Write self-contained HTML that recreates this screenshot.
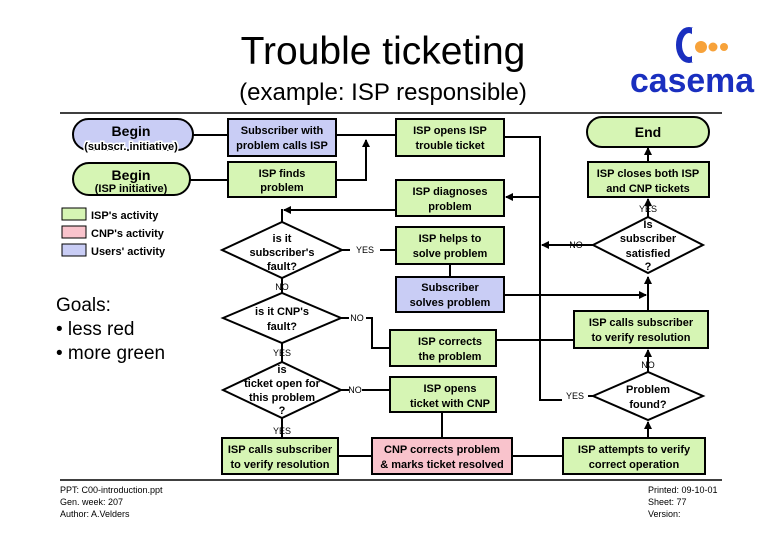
<!DOCTYPE html>
<html><head><meta charset="utf-8"><style>
html,body{margin:0;padding:0;background:#fff;}
svg{display:block;font-family:"Liberation Sans",Arial,sans-serif;}
.b{stroke:#000;stroke-width:2;}
.g{fill:#d6f5b4;}.u{fill:#c9cdf5;}.p{fill:#f9c3cc;}
.t{font-size:11px;font-weight:bold;text-anchor:middle;}
.l{stroke:#000;stroke-width:2;fill:none;}
.s{font-size:9px;text-anchor:middle;}
</style></head><body>
<svg width="780" height="540" viewBox="0 0 780 540" xmlns="http://www.w3.org/2000/svg">
<defs><marker id="a" markerWidth="8" markerHeight="8" refX="7" refY="4" orient="auto" markerUnits="userSpaceOnUse"><path d="M0,0 L8,4 L0,8 z" fill="#000"/></marker></defs>
<text x="383" y="64" font-size="39" text-anchor="middle">Trouble ticketing</text>
<text x="383" y="100" font-size="24" text-anchor="middle">(example: ISP responsible)</text>
<!-- logo -->
<g>
<ellipse cx="689" cy="45" rx="10" ry="15" fill="none" stroke="#1a2fbf" stroke-width="6"/>
<rect x="692" y="28" width="14" height="34" fill="#fff"/>
<circle cx="701" cy="47" r="6" fill="#f7a23a"/><circle cx="713" cy="47" r="4.5" fill="#f7a23a"/><circle cx="724" cy="47" r="4" fill="#f7a23a"/>
<text x="692" y="92" font-size="34" font-weight="bold" fill="#1a2fbf" text-anchor="middle" textLength="124" lengthAdjust="spacingAndGlyphs">casema</text>
</g>
<line x1="60" y1="113" x2="722" y2="113" stroke="#000" stroke-width="1.5"/>
<line x1="60" y1="480" x2="722" y2="480" stroke="#000" stroke-width="1.5"/>

<!-- connectors -->
<path class="l" d="M193,135 H228 M336,135 H396"/>
<path class="l" d="M190,180 H228 M336,180 H366 V140" marker-end="url(#a)"/>
<path class="l" d="M504,137 H540 V400 H562"/>
<path class="l" d="M540,197 H506" marker-end="url(#a)"/>
<path class="l" d="M396,210 H284" marker-end="url(#a)"/>
<path class="l" d="M282,209 V222"/>
<path class="l" d="M593,245 H542" marker-end="url(#a)"/>
<path class="l" d="M342,250 H350 M380,250 H396"/>
<path class="l" d="M450,264 V277"/>
<path class="l" d="M504,295 H646" marker-end="url(#a)"/>
<path class="l" d="M648,311 V277" marker-end="url(#a)"/>
<path class="l" d="M648,218 V199" marker-end="url(#a)"/>
<path class="l" d="M648,162 V148" marker-end="url(#a)"/>
<path class="l" d="M282,278 V293"/>
<path class="l" d="M341,318 H349 M366,318 H372 V348 H390"/>
<path class="l" d="M496,340 H574"/>
<path class="l" d="M282,343 V362"/>
<path class="l" d="M341,390 H349 M362,390 H390"/>
<path class="l" d="M442,412 V438"/>
<path class="l" d="M282,418 V438"/>
<path class="l" d="M338,456 H372 M512,456 H563"/>
<path class="l" d="M648,438 V422" marker-end="url(#a)"/>
<path class="l" d="M648,372 V350" marker-end="url(#a)"/>
<path class="l" d="M593,396 H588"/>

<!-- pills -->
<rect x="73" y="119" width="120" height="31" rx="15.5" class="b u"/>
<text x="131" y="136" font-size="14" font-weight="bold" text-anchor="middle">Begin</text>
<text x="131" y="150" class="t" fill="#000" style="paint-order:stroke" stroke="#fff" stroke-width="3">(subscr. initiative)</text>
<rect x="73" y="163" width="117" height="32" rx="16" class="b g"/>
<text x="131" y="180" font-size="14" font-weight="bold" text-anchor="middle">Begin</text>
<text x="131" y="192" class="t">(ISP initiative)</text>
<rect x="587" y="117" width="122" height="30" rx="15" class="b g"/>
<text x="648" y="137" font-size="14" font-weight="bold" text-anchor="middle">End</text>

<!-- boxes -->
<rect x="228" y="119" width="108" height="37" class="b u"/><text class="t" x="282" y="134">Subscriber with</text><text class="t" x="282" y="149">problem calls ISP</text>
<rect x="228" y="162" width="108" height="35" class="b g"/><text class="t" x="282" y="177">ISP finds</text><text class="t" x="282" y="191">problem</text>
<rect x="396" y="119" width="108" height="37" class="b g"/><text class="t" x="450" y="134">ISP opens ISP</text><text class="t" x="450" y="149">trouble ticket</text>
<rect x="396" y="180" width="108" height="36" class="b g"/><text class="t" x="450" y="195">ISP diagnoses</text><text class="t" x="450" y="210">problem</text>
<rect x="396" y="227" width="108" height="37" class="b g"/><text class="t" x="450" y="242">ISP helps to</text><text class="t" x="450" y="257">solve problem</text>
<rect x="396" y="277" width="108" height="35" class="b u"/><text class="t" x="450" y="291">Subscriber</text><text class="t" x="450" y="306">solves problem</text>
<rect x="390" y="330" width="106" height="36" class="b g"/><text class="t" x="450" y="345">ISP corrects</text><text class="t" x="450" y="360">the problem</text>
<rect x="390" y="377" width="106" height="35" class="b g"/><text class="t" x="450" y="392">ISP opens</text><text class="t" x="450" y="407">ticket with CNP</text>
<rect x="372" y="438" width="140" height="36" class="b p"/><text class="t" x="442" y="453">CNP corrects problem</text><text class="t" x="442" y="468">&amp; marks ticket resolved</text>
<rect x="222" y="438" width="116" height="36" class="b g"/><text class="t" x="280" y="453">ISP calls subscriber</text><text class="t" x="280" y="468">to verify  resolution</text>
<rect x="563" y="438" width="142" height="36" class="b g"/><text class="t" x="634" y="453">ISP attempts to  verify</text><text class="t" x="634" y="468">correct  operation</text>
<rect x="574" y="311" width="134" height="37" class="b g"/><text class="t" x="641" y="326">ISP calls subscriber</text><text class="t" x="641" y="341">to verify resolution</text>
<rect x="588" y="162" width="121" height="35" class="b g"/><text class="t" x="648" y="177">ISP closes both ISP</text><text class="t" x="648" y="192">and CNP  tickets</text>

<!-- diamonds -->
<polygon points="222,250 282,222 342,250 282,278" class="b" fill="#fff"/>
<text class="t" x="282" y="242">is it</text><text class="t" x="282" y="256">subscriber's</text><text class="t" x="282" y="270">fault?</text>
<polygon points="223,318 282,293 341,318 282,343" class="b" fill="#fff"/>
<text class="t" x="282" y="315">is it CNP's</text><text class="t" x="282" y="330">fault?</text>
<polygon points="223,390 282,362 341,390 282,418" class="b" fill="#fff"/>
<text class="t" x="282" y="373">is</text><text class="t" x="282" y="387">ticket open for</text><text class="t" x="282" y="401">this problem</text><text class="t" x="282" y="414">?</text>
<polygon points="593,245 648,217 703,245 648,273" class="b" fill="#fff"/>
<text class="t" x="648" y="228">Is</text><text class="t" x="648" y="242">subscriber</text><text class="t" x="648" y="257">satisfied</text><text class="t" x="648" y="270">?</text>
<polygon points="593,396 648,372 703,396 648,420" class="b" fill="#fff"/>
<text class="t" x="648" y="393">Problem</text><text class="t" x="648" y="408">found?</text>

<!-- labels -->
<text class="s" x="365" y="253">YES</text>
<text class="s" x="282" y="290">NO</text>
<text class="s" x="357" y="321">NO</text>
<text class="s" x="282" y="356">YES</text>
<text class="s" x="355" y="393">NO</text>
<text class="s" x="282" y="434">YES</text>
<text class="s" x="576" y="248">NO</text>
<text class="s" x="648" y="212">YES</text>
<text class="s" x="648" y="368">NO</text>
<text class="s" x="575" y="399">YES</text>

<!-- legend -->
<rect x="62" y="208" width="24" height="12" fill="#d6f5b4" stroke="#000"/>
<rect x="62" y="226" width="24" height="12" fill="#f9c3cc" stroke="#000"/>
<rect x="62" y="244" width="24" height="12" fill="#c9cdf5" stroke="#000"/>
<text x="91" y="219" font-size="11" font-weight="bold">ISP's activity</text>
<text x="91" y="237" font-size="11" font-weight="bold">CNP's activity</text>
<text x="91" y="255" font-size="11" font-weight="bold">Users' activity</text>

<text x="56" y="311" font-size="19">Goals:</text>
<text x="56" y="335" font-size="19">• less red</text>
<text x="56" y="359" font-size="19">• more green</text>

<text x="60" y="493" font-size="9">PPT: C00-introduction.ppt</text>
<text x="60" y="505" font-size="9">Gen. week: 207</text>
<text x="60" y="517" font-size="9">Author: A.Velders</text>
<text x="648" y="493" font-size="9">Printed: 09-10-01</text>
<text x="648" y="505" font-size="9">Sheet: 77</text>
<text x="648" y="517" font-size="9">Version:</text>
</svg>
</body></html>
